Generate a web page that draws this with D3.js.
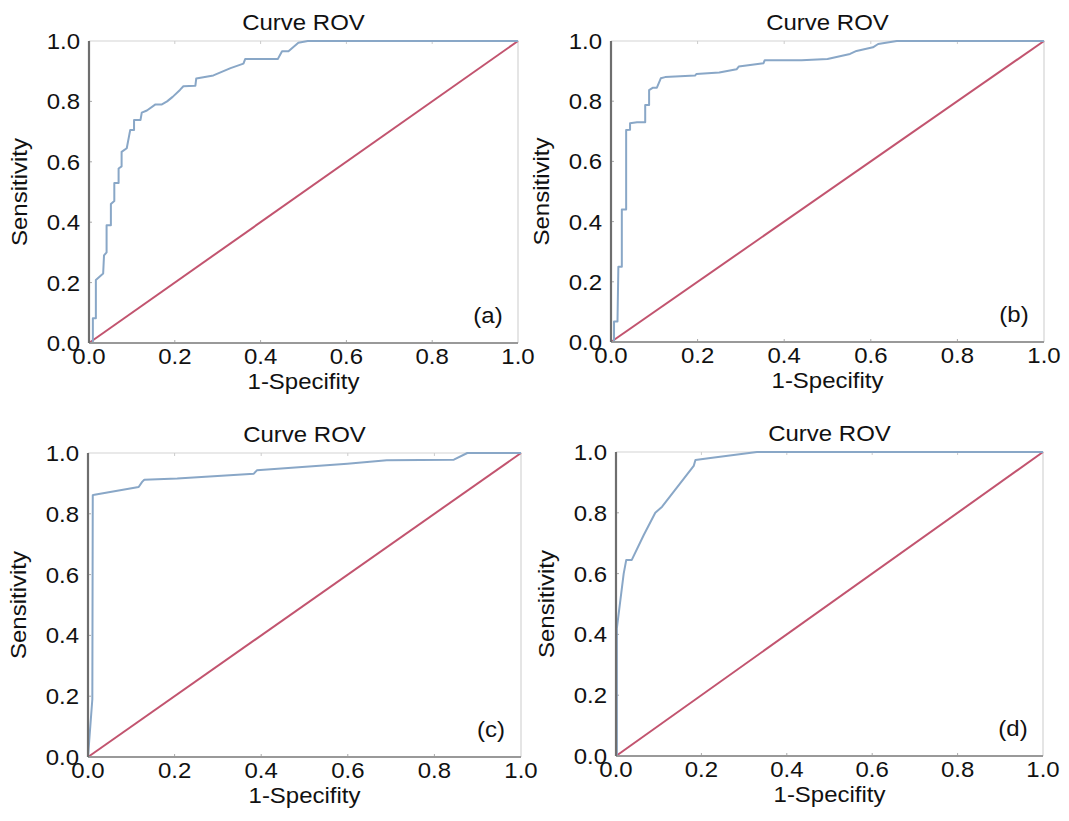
<!DOCTYPE html>
<html lang="en">
<head>
<meta charset="utf-8">
<title>Curve ROV</title>
<script src="https://d3js.org/d3.v7.min.js"></script>
<style>
  body { margin: 0; background: #fff; }
  svg text { font-family: "Liberation Sans", Arial, sans-serif; fill: #111; font-size: 22px; }
</style>
</head>
<body>
<svg id="chart" width="1069" height="821"></svg>
<script>
// tick labels shared by every panel
const ticks = [0, 0.2, 0.4, 0.6, 0.8, 1.0];

// ROC points: [1-specificity, sensitivity]
const rocA = [[0,0],[0.009,0],[0.009,0.082],[0.016,0.082],[0.016,0.209],[0.033,0.23],[0.035,0.29],
  [0.041,0.30],[0.041,0.39],[0.051,0.39],[0.051,0.46],[0.059,0.47],[0.059,0.53],[0.069,0.53],
  [0.069,0.578],[0.076,0.585],[0.076,0.633],[0.088,0.645],[0.096,0.705],[0.105,0.705],[0.105,0.738],
  [0.12,0.738],[0.123,0.763],[0.135,0.77],[0.155,0.79],[0.17,0.79],[0.182,0.80],[0.195,0.815],
  [0.212,0.838],[0.22,0.85],[0.248,0.852],[0.25,0.876],[0.29,0.886],[0.33,0.91],[0.36,0.925],
  [0.364,0.94],[0.44,0.94],[0.45,0.966],[0.465,0.966],[0.488,0.994],[0.51,1],[1,1]];

const rocB = [[0,0],[0.007,0],[0.007,0.068],[0.015,0.068],[0.017,0.25],[0.025,0.25],[0.025,0.44],
  [0.035,0.44],[0.035,0.704],[0.044,0.705],[0.044,0.727],[0.06,0.73],[0.079,0.73],[0.079,0.787],
  [0.088,0.787],[0.088,0.837],[0.097,0.845],[0.106,0.845],[0.115,0.876],[0.125,0.88],[0.194,0.885],
  [0.197,0.89],[0.25,0.895],[0.29,0.906],[0.295,0.915],[0.352,0.926],[0.355,0.936],[0.44,0.936],
  [0.5,0.94],[0.552,0.957],[0.567,0.967],[0.605,0.979],[0.617,0.99],[0.66,1],[1,1]];

const rocC = [[0,0],[0.01,0.19],[0.011,0.861],[0.015,0.863],[0.117,0.888],[0.125,0.905],[0.13,0.912],
  [0.206,0.916],[0.383,0.932],[0.39,0.943],[0.599,0.965],[0.69,0.976],[0.845,0.978],[0.876,1],[1,1]];

const rocD = [[0,0],[0.002,0],[0.002,0.42],[0.018,0.60],[0.024,0.645],[0.037,0.645],[0.065,0.727],
  [0.092,0.80],[0.108,0.82],[0.182,0.954],[0.186,0.974],[0.221,0.98],[0.33,1],[1,1]];

const chance = [[0,0],[1,1]];

const panels = [
  {data: rocA, tag: '(a)', left: 89, top: 41, w: 429, h: 302},
  {data: rocB, tag: '(b)', left: 611, top: 41, w: 433, h: 301},
  {data: rocC, tag: '(c)', left: 88, top: 453, w: 433, h: 304},
  {data: rocD, tag: '(d)', left: 616, top: 452, w: 427, h: 304}
];

const svg = d3.select('#chart');
const sx = 1.09; // the source lettering is a bit wider than Liberation Sans

// text placed at (x,y) and stretched sideways
function label(g, x, y, str, anchor, rot) {
  const r = rot ? ` rotate(${rot})` : '';
  return g.append('text')
    .attr('transform', `translate(${x},${y})${r} scale(${sx},1)`)
    .attr('text-anchor', anchor)
    .text(str);
}

panels.forEach(p => {
  const g = svg.append('g').attr('transform', `translate(${p.left},${p.top})`);
  const x = d3.scaleLinear().domain([0, 1]).range([0, p.w]);
  const y = d3.scaleLinear().domain([0, 1]).range([p.h, 0]);

  // light frame on top and right
  g.append('path')
    .attr('d', `M0,0H${p.w}V${p.h}`)
    .attr('fill', 'none').attr('stroke', '#d4d4d4').attr('stroke-width', 1.2);

  // faint inner ticks
  ticks.slice(1, -1).forEach(t => {
    g.append('line').attr('x1', x(t)).attr('x2', x(t)).attr('y1', 0).attr('y2', 3)
      .attr('stroke', '#ccc');
    g.append('line').attr('x1', x(t)).attr('x2', x(t)).attr('y1', p.h).attr('y2', p.h - 3)
      .attr('stroke', '#aaa');
    g.append('line').attr('x1', 0).attr('x2', 3).attr('y1', y(t)).attr('y2', y(t))
      .attr('stroke', '#aaa');
  });

  const line = d3.line().x(d => x(d[0])).y(d => y(d[1]));

  g.append('path').datum(chance).attr('d', line)
    .attr('fill', 'none').attr('stroke', '#c2546f').attr('stroke-width', 2);

  g.append('path').datum(p.data).attr('d', line)
    .attr('fill', 'none').attr('stroke', '#89a7c7').attr('stroke-width', 2)
    .attr('stroke-linejoin', 'round');

  // axes lines
  g.append('line').attr('x1', 0).attr('x2', p.w).attr('y1', p.h).attr('y2', p.h)
    .attr('stroke', '#999').attr('stroke-width', 2);
  g.append('line').attr('x1', 0).attr('x2', 0).attr('y1', 0).attr('y2', p.h)
    .attr('stroke', '#6e6e6e').attr('stroke-width', 2.2);

  // tick labels
  ticks.forEach(t => {
    label(g, -9, y(t) + 8, t.toFixed(1), 'end');
    label(g, x(t), p.h + 21, t.toFixed(1), 'middle');
  });

  label(g, p.w / 2, p.h + 46, '1-Specifity', 'middle');
  label(g, -62, p.h / 2, 'Sensitivity', 'middle', -90);
  label(g, p.w / 2, -11, 'Curve ROV', 'middle');
  label(g, p.w - 30, p.h - 20, p.tag, 'middle');
});
</script>
</body>
</html>
